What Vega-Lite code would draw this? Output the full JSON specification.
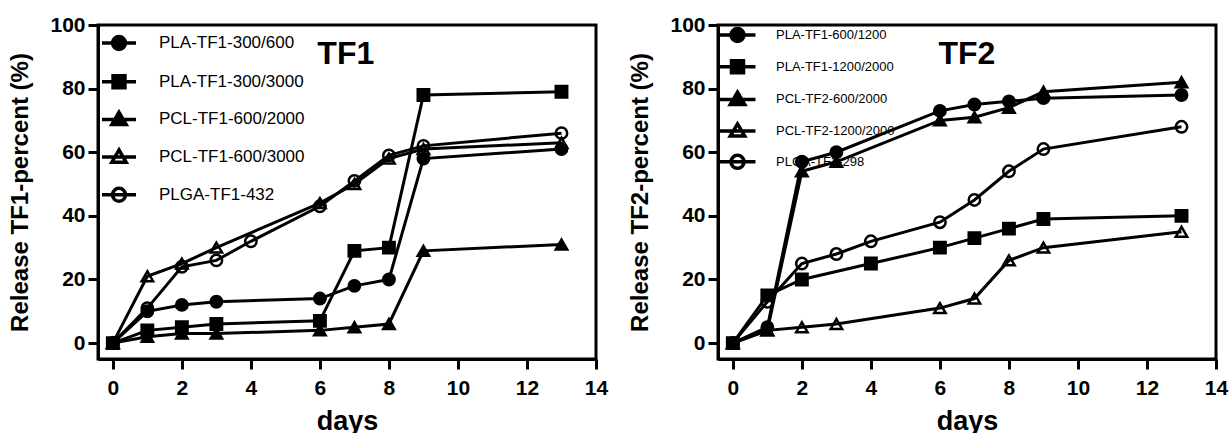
{
  "$schema": "https://vega.github.io/schema/vega-lite/v6.json",
  "padding": {"left": 7, "top": 12, "right": 0, "bottom": 0},
  "spacing": 122,
  "bounds": "flush",
  "resolve": {"scale": {"shape": "independent", "fill": "independent", "x": "independent", "y": "independent"}, "legend": {"shape": "independent", "fill": "independent"}},
  "config": {
    "font": "Liberation Sans",
    "view": {"stroke": "black", "strokeWidth": 3},
    "axis": {
      "domainColor": "black", "domainWidth": 3, "tickColor": "black", "tickWidth": 3, "tickSize": 10,
      "labelColor": "black", "labelFontSize": 21, "labelFontWeight": "bold", "labelFont": "Liberation Sans",
      "titleColor": "black", "titleFontWeight": "bold", "titleFont": "Liberation Sans", "grid": false, "labelFlush": false
    },
    "axisX": {"labelPadding": 8, "titleFontSize": 27, "titlePadding": 10},
    "axisY": {"labelPadding": 3, "titleFontSize": 24, "titlePadding": 17},
    "legend": {"orient": "none", "symbolSize": 1156, "symbolStrokeWidth": 3.5, "symbolOpacity": 1, "labelColor": "black", "labelFont": "Liberation Sans", "padding": 0}
  },
  "hconcat": [
    {
      "width": 498, "height": 334,
      "data": {"values": [
        {"series": "PLA-TF1-300/600", "day": 0, "pct": 0},
        {"series": "PLA-TF1-300/600", "day": 1, "pct": 10},
        {"series": "PLA-TF1-300/600", "day": 2, "pct": 12},
        {"series": "PLA-TF1-300/600", "day": 3, "pct": 13},
        {"series": "PLA-TF1-300/600", "day": 6, "pct": 14},
        {"series": "PLA-TF1-300/600", "day": 7, "pct": 18},
        {"series": "PLA-TF1-300/600", "day": 8, "pct": 20},
        {"series": "PLA-TF1-300/600", "day": 9, "pct": 58},
        {"series": "PLA-TF1-300/600", "day": 13, "pct": 61},
        {"series": "PLA-TF1-300/3000", "day": 0, "pct": 0},
        {"series": "PLA-TF1-300/3000", "day": 1, "pct": 4},
        {"series": "PLA-TF1-300/3000", "day": 2, "pct": 5},
        {"series": "PLA-TF1-300/3000", "day": 3, "pct": 6},
        {"series": "PLA-TF1-300/3000", "day": 6, "pct": 7},
        {"series": "PLA-TF1-300/3000", "day": 7, "pct": 29},
        {"series": "PLA-TF1-300/3000", "day": 8, "pct": 30},
        {"series": "PLA-TF1-300/3000", "day": 9, "pct": 78},
        {"series": "PLA-TF1-300/3000", "day": 13, "pct": 79},
        {"series": "PCL-TF1-600/2000", "day": 0, "pct": 0},
        {"series": "PCL-TF1-600/2000", "day": 1, "pct": 2},
        {"series": "PCL-TF1-600/2000", "day": 2, "pct": 3},
        {"series": "PCL-TF1-600/2000", "day": 3, "pct": 3},
        {"series": "PCL-TF1-600/2000", "day": 6, "pct": 4},
        {"series": "PCL-TF1-600/2000", "day": 7, "pct": 5},
        {"series": "PCL-TF1-600/2000", "day": 8, "pct": 6},
        {"series": "PCL-TF1-600/2000", "day": 9, "pct": 29},
        {"series": "PCL-TF1-600/2000", "day": 13, "pct": 31},
        {"series": "PCL-TF1-600/3000", "day": 0, "pct": 0},
        {"series": "PCL-TF1-600/3000", "day": 1, "pct": 21},
        {"series": "PCL-TF1-600/3000", "day": 2, "pct": 25},
        {"series": "PCL-TF1-600/3000", "day": 3, "pct": 30},
        {"series": "PCL-TF1-600/3000", "day": 6, "pct": 44},
        {"series": "PCL-TF1-600/3000", "day": 7, "pct": 50},
        {"series": "PCL-TF1-600/3000", "day": 8, "pct": 58},
        {"series": "PCL-TF1-600/3000", "day": 9, "pct": 61},
        {"series": "PCL-TF1-600/3000", "day": 13, "pct": 63},
        {"series": "PLGA-TF1-432", "day": 0, "pct": 0},
        {"series": "PLGA-TF1-432", "day": 1, "pct": 11},
        {"series": "PLGA-TF1-432", "day": 2, "pct": 24},
        {"series": "PLGA-TF1-432", "day": 3, "pct": 26},
        {"series": "PLGA-TF1-432", "day": 4, "pct": 32},
        {"series": "PLGA-TF1-432", "day": 6, "pct": 43},
        {"series": "PLGA-TF1-432", "day": 7, "pct": 51},
        {"series": "PLGA-TF1-432", "day": 8, "pct": 59},
        {"series": "PLGA-TF1-432", "day": 9, "pct": 62},
        {"series": "PLGA-TF1-432", "day": 13, "pct": 66}
      ]},
      "resolve": {"scale": {"shape": "independent", "fill": "independent"}, "legend": {"shape": "independent", "fill": "independent"}},
      "layer": [
        {
          "mark": {"type": "line", "color": "black", "strokeWidth": 3},
          "encoding": {
            "x": {"field": "day", "type": "quantitative", "scale": {"domain": [-0.43, 14], "nice": false, "zero": false}, "axis": {"values": [0, 2, 4, 6, 8, 10, 12, 14], "title": "days"}},
            "y": {"field": "pct", "type": "quantitative", "scale": {"domain": [-5, 100], "nice": false, "zero": false}, "axis": {"values": [0, 20, 40, 60, 80, 100], "title": "Release TF1-percent (%)"}},
            "detail": {"field": "series"}
          }
        },
        {
          "mark": {"type": "point", "filled": true, "stroke": "black", "strokeWidth": 2.5, "size": 130, "opacity": 1},
          "encoding": {
            "x": {"field": "day", "type": "quantitative"},
            "y": {"field": "pct", "type": "quantitative"},
            "shape": {"field": "series", "type": "nominal", "legend": null,
              "scale": {"domain": ["PLA-TF1-300/600", "PLA-TF1-300/3000", "PCL-TF1-600/2000", "PCL-TF1-600/3000", "PLGA-TF1-432"], "range": ["circle", "square", "triangle-up", "triangle-up", "circle"]}},
            "fill": {"field": "series", "type": "nominal", "legend": null,
              "scale": {"domain": ["PLA-TF1-300/600", "PLA-TF1-300/3000", "PCL-TF1-600/2000", "PCL-TF1-600/3000", "PLGA-TF1-432"], "range": ["black", "black", "black", "transparent", "transparent"]}}
          }
        },
        {
          "transform": [{"filter": "datum.day < 0"}],
          "mark": {"type": "point", "filled": true, "stroke": "black", "strokeWidth": 3.5, "opacity": 1},
          "encoding": {
            "x": {"field": "day", "type": "quantitative"},
            "y": {"field": "pct", "type": "quantitative"},
            "shape": {"field": "series", "type": "nominal",
              "scale": {"domain": ["PLA-TF1-300/600", "PLA-TF1-300/3000", "PCL-TF1-600/2000", "PCL-TF1-600/3000", "PLGA-TF1-432"],
                "range": ["M-1,0H1M0.38,0A0.38,0.38,0,1,1,-0.38,0A0.38,0.38,0,1,1,0.38,0Z", "M-1,0H1M-0.35,-0.35H0.35V0.35H-0.35Z", "M-1,0H1M0,-0.42L0.42,0.3L-0.42,0.3Z", "M-1,0H1M0,-0.42L0.42,0.3L-0.42,0.3Z", "M-1,0H1M0.38,0A0.38,0.38,0,1,1,-0.38,0A0.38,0.38,0,1,1,0.38,0Z"]},
              "legend": {"title": null, "legendX": 2, "legendY": -1, "labelFontSize": 17, "labelOffset": 21, "rowPadding": 5.7}},
            "fill": {"field": "series", "type": "nominal",
              "scale": {"domain": ["PLA-TF1-300/600", "PLA-TF1-300/3000", "PCL-TF1-600/2000", "PCL-TF1-600/3000", "PLGA-TF1-432"], "range": ["black", "black", "black", "transparent", "transparent"]},
              "legend": {"title": null, "legendX": 2, "legendY": -1, "labelFontSize": 17, "labelOffset": 21, "rowPadding": 5.7}}
          }
        },
        {
          "data": {"values": [{"label": "TF1"}]},
          "mark": {"type": "text", "fontSize": 32, "fontWeight": "bold", "color": "black", "baseline": "middle", "align": "center"},
          "encoding": {
            "x": {"datum": 6.75, "type": "quantitative"},
            "y": {"datum": 91, "type": "quantitative"},
            "text": {"field": "label"}
          }
        }
      ]
    },
    {
      "width": 498, "height": 334,
      "data": {"values": [
        {"series": "PLA-TF1-600/1200", "day": 0, "pct": 0},
        {"series": "PLA-TF1-600/1200", "day": 1, "pct": 5},
        {"series": "PLA-TF1-600/1200", "day": 2, "pct": 57},
        {"series": "PLA-TF1-600/1200", "day": 3, "pct": 60},
        {"series": "PLA-TF1-600/1200", "day": 6, "pct": 73},
        {"series": "PLA-TF1-600/1200", "day": 7, "pct": 75},
        {"series": "PLA-TF1-600/1200", "day": 8, "pct": 76},
        {"series": "PLA-TF1-600/1200", "day": 9, "pct": 77},
        {"series": "PLA-TF1-600/1200", "day": 13, "pct": 78},
        {"series": "PLA-TF1-1200/2000", "day": 0, "pct": 0},
        {"series": "PLA-TF1-1200/2000", "day": 1, "pct": 15},
        {"series": "PLA-TF1-1200/2000", "day": 2, "pct": 20},
        {"series": "PLA-TF1-1200/2000", "day": 4, "pct": 25},
        {"series": "PLA-TF1-1200/2000", "day": 6, "pct": 30},
        {"series": "PLA-TF1-1200/2000", "day": 7, "pct": 33},
        {"series": "PLA-TF1-1200/2000", "day": 8, "pct": 36},
        {"series": "PLA-TF1-1200/2000", "day": 9, "pct": 39},
        {"series": "PLA-TF1-1200/2000", "day": 13, "pct": 40},
        {"series": "PCL-TF2-600/2000", "day": 0, "pct": 0},
        {"series": "PCL-TF2-600/2000", "day": 1, "pct": 4},
        {"series": "PCL-TF2-600/2000", "day": 2, "pct": 54},
        {"series": "PCL-TF2-600/2000", "day": 3, "pct": 57},
        {"series": "PCL-TF2-600/2000", "day": 6, "pct": 70},
        {"series": "PCL-TF2-600/2000", "day": 7, "pct": 71},
        {"series": "PCL-TF2-600/2000", "day": 8, "pct": 74},
        {"series": "PCL-TF2-600/2000", "day": 9, "pct": 79},
        {"series": "PCL-TF2-600/2000", "day": 13, "pct": 82},
        {"series": "PCL-TF2-1200/2000", "day": 0, "pct": 0},
        {"series": "PCL-TF2-1200/2000", "day": 1, "pct": 4},
        {"series": "PCL-TF2-1200/2000", "day": 2, "pct": 5},
        {"series": "PCL-TF2-1200/2000", "day": 3, "pct": 6},
        {"series": "PCL-TF2-1200/2000", "day": 6, "pct": 11},
        {"series": "PCL-TF2-1200/2000", "day": 7, "pct": 14},
        {"series": "PCL-TF2-1200/2000", "day": 8, "pct": 26},
        {"series": "PCL-TF2-1200/2000", "day": 9, "pct": 30},
        {"series": "PCL-TF2-1200/2000", "day": 13, "pct": 35},
        {"series": "PLGA-TF2-298", "day": 0, "pct": 0},
        {"series": "PLGA-TF2-298", "day": 1, "pct": 13},
        {"series": "PLGA-TF2-298", "day": 2, "pct": 25},
        {"series": "PLGA-TF2-298", "day": 3, "pct": 28},
        {"series": "PLGA-TF2-298", "day": 4, "pct": 32},
        {"series": "PLGA-TF2-298", "day": 6, "pct": 38},
        {"series": "PLGA-TF2-298", "day": 7, "pct": 45},
        {"series": "PLGA-TF2-298", "day": 8, "pct": 54},
        {"series": "PLGA-TF2-298", "day": 9, "pct": 61},
        {"series": "PLGA-TF2-298", "day": 13, "pct": 68}
      ]},
      "resolve": {"scale": {"shape": "independent", "fill": "independent"}, "legend": {"shape": "independent", "fill": "independent"}},
      "layer": [
        {
          "mark": {"type": "line", "color": "black", "strokeWidth": 3},
          "encoding": {
            "x": {"field": "day", "type": "quantitative", "scale": {"domain": [-0.43, 14], "nice": false, "zero": false}, "axis": {"values": [0, 2, 4, 6, 8, 10, 12, 14], "title": "days"}},
            "y": {"field": "pct", "type": "quantitative", "scale": {"domain": [-5, 100], "nice": false, "zero": false}, "axis": {"values": [0, 20, 40, 60, 80, 100], "title": "Release TF2-percent (%)"}},
            "detail": {"field": "series"}
          }
        },
        {
          "mark": {"type": "point", "filled": true, "stroke": "black", "strokeWidth": 2.5, "size": 130, "opacity": 1},
          "encoding": {
            "x": {"field": "day", "type": "quantitative"},
            "y": {"field": "pct", "type": "quantitative"},
            "shape": {"field": "series", "type": "nominal", "legend": null,
              "scale": {"domain": ["PLA-TF1-600/1200", "PLA-TF1-1200/2000", "PCL-TF2-600/2000", "PCL-TF2-1200/2000", "PLGA-TF2-298"], "range": ["circle", "square", "triangle-up", "triangle-up", "circle"]}},
            "fill": {"field": "series", "type": "nominal", "legend": null,
              "scale": {"domain": ["PLA-TF1-600/1200", "PLA-TF1-1200/2000", "PCL-TF2-600/2000", "PCL-TF2-1200/2000", "PLGA-TF2-298"], "range": ["black", "black", "black", "transparent", "transparent"]}}
          }
        },
        {
          "transform": [{"filter": "datum.day < 0"}],
          "mark": {"type": "point", "filled": true, "stroke": "black", "strokeWidth": 3.5, "opacity": 1},
          "encoding": {
            "x": {"field": "day", "type": "quantitative"},
            "y": {"field": "pct", "type": "quantitative"},
            "shape": {"field": "series", "type": "nominal",
              "scale": {"domain": ["PLA-TF1-600/1200", "PLA-TF1-1200/2000", "PCL-TF2-600/2000", "PCL-TF2-1200/2000", "PLGA-TF2-298"],
                "range": ["M-1.8,0H1.8M0.65,0A0.65,0.65,0,1,1,-0.65,0A0.65,0.65,0,1,1,0.65,0Z", "M-1.8,0H1.8M-0.6,-0.6H0.6V0.6H-0.6Z", "M-1.8,0H1.8M0,-0.72L0.72,0.5L-0.72,0.5Z", "M-1.8,0H1.8M0,-0.72L0.72,0.5L-0.72,0.5Z", "M-1.8,0H1.8M0.65,0A0.65,0.65,0,1,1,-0.65,0A0.65,0.65,0,1,1,0.65,0Z"]},
              "legend": {"title": null, "legendX": 7.5, "legendY": -2, "labelFontSize": 13, "labelOffset": 26.5, "rowPadding": 4.7, "symbolSize": 400}},
            "fill": {"field": "series", "type": "nominal",
              "scale": {"domain": ["PLA-TF1-600/1200", "PLA-TF1-1200/2000", "PCL-TF2-600/2000", "PCL-TF2-1200/2000", "PLGA-TF2-298"], "range": ["black", "black", "black", "transparent", "transparent"]},
              "legend": {"title": null, "legendX": 7.5, "legendY": -2, "labelFontSize": 13, "labelOffset": 26.5, "rowPadding": 4.7, "symbolSize": 400}}
          }
        },
        {
          "data": {"values": [{"label": "TF2"}]},
          "mark": {"type": "text", "fontSize": 32, "fontWeight": "bold", "color": "black", "baseline": "middle", "align": "center"},
          "encoding": {
            "x": {"datum": 6.78, "type": "quantitative"},
            "y": {"datum": 91, "type": "quantitative"},
            "text": {"field": "label"}
          }
        }
      ]
    }
  ]
}
